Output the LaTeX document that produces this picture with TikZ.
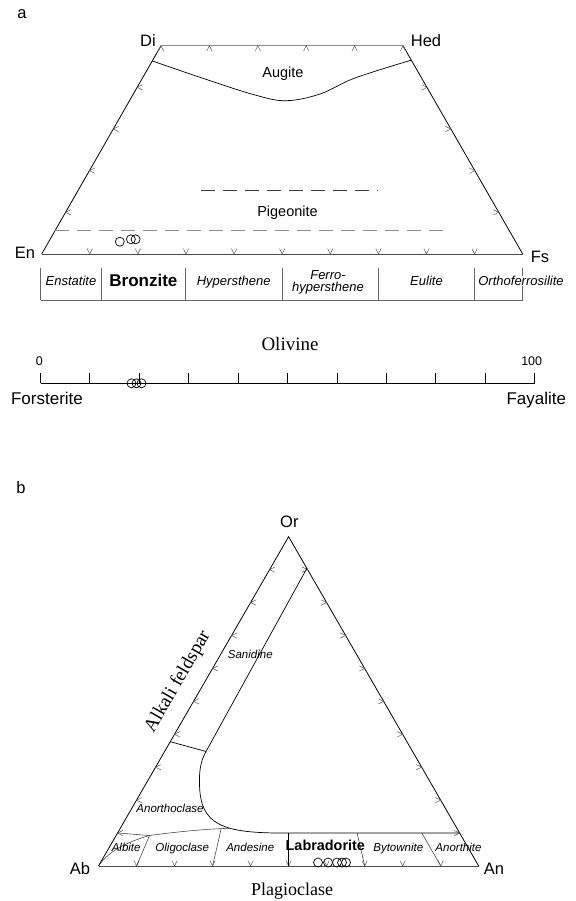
\documentclass[tikz,border=0pt]{standalone}
\usepackage{fontspec}
\setmainfont{Liberation Sans}
\newfontfamily\serifF{Liberation Serif}
\usetikzlibrary{calc}
\newcommand\tk[2]{\draw[tickst] ($(#1)+(#2-26:6)$) -- (#1) -- ($(#1)+(#2+26:6)$);}
\begin{document}
\begin{tikzpicture}[x=1pt,y=-1pt,
  edge/.style={line width=0.8pt,black},
  grayedge/.style={line width=0.8pt,black!45},
  baseedge/.style={line width=0.8pt,black!70},
  tickst/.style={line width=0.5pt,black!65},
  bnd/.style={line width=0.7pt,black},
  thinb/.style={line width=0.55pt,black!75},
  tbl/.style={line width=0.6pt,black!60},
  dashdark/.style={line width=0.8pt,black!75,dash pattern=on 14pt off 8pt},
  dashgray/.style={line width=0.8pt,black!45,dash pattern=on 14pt off 8pt},
  circ/.style={line width=0.7pt,black},
  lab/.style={inner sep=0pt,anchor=base},
  vlab/.style={lab,font=\fontsize{16.5}{18}\selectfont},
  mlab/.style={lab,font=\fontsize{14.5}{16}\selectfont},
  tlab/.style={lab,font=\fontsize{13}{14}\selectfont\itshape},
  slab/.style={lab,font=\fontsize{11.5}{13}\selectfont\itshape},
  serlab/.style={lab,font=\fontsize{19}{21}\selectfont\serifF},
]
\useasboundingbox (0,0) rectangle (575,901);

% ---------------- panel a ----------------
\node[vlab] (la) at (22,18.5) {a};
\coordinate (Di) at (161,45.7);
\coordinate (Hed) at (403,45.7);
\coordinate (En) at (41.7,254);
\coordinate (Fs) at (522.7,254);

\draw[grayedge] (Di) -- (Hed);
\draw[edge] (Di) -- (En);
\draw[edge] (Hed) -- (Fs);
\draw[baseedge] (En) -- (Fs);

\foreach \k in {0,...,5}{\pgfmathsetmacro\f{\k/5}\coordinate (t) at ($(Di)!\f!(Hed)$); \tk{t}{90}}
\foreach \k in {1,...,4}{\pgfmathsetmacro\f{\k/5}\coordinate (t) at ($(Di)!\f!(En)$); \tk{t}{0}}
\foreach \k in {1,...,4}{\pgfmathsetmacro\f{\k/5}\coordinate (t) at ($(Hed)!\f!(Fs)$); \tk{t}{180}}
\foreach \k in {1,...,9}{\pgfmathsetmacro\f{\k/10}\coordinate (t) at ($(En)!\f!(Fs)$); \tk{t}{270}}

\node[vlab] (lDi) at (148,47) {Di};
\node[vlab] (lHed) at (426,47) {Hed};
\node[vlab] (lEn) at (25,258.7) {En};
\node[vlab] (lFs) at (540,262) {Fs};

\draw[bnd] plot[smooth,tension=0.6] coordinates {(152.5,61) (205,79) (255,95) (286,100.7) (320,94) (355,78) (410.8,60.3)};
\node[mlab] (laug) at (283,77.3) {Augite};

\draw[dashdark] (200.9,190) -- (377.8,190);
\node[mlab] (lpig) at (287.5,216.3) {Pigeonite};
\draw[dashgray] (54.5,230.7) -- (450.4,230.7);

\foreach \p in {(119.8,241.7),(130.9,239.3),(135.6,239.3)} \draw[circ] \p circle[radius=4.5pt];

% table
\foreach \x in {40.5,101.4,185.4,282,378.5,474.4,522.7} \draw[tbl] (\x,268) -- (\x,300);
\draw[tbl] (40.5,300) -- (522.7,300);
\node[tlab] (lens) at (71,285.5) {Enstatite};
\node[lab,font=\fontsize{17}{18}\selectfont\bfseries] (lbro) at (143.4,286.5) {Bronzite};
\node[tlab] (lhyp) at (233.7,285.5) {Hypersthene};
\node[tlab] (lfer1) at (328,279) {Ferro-};
\node[tlab] (lfer2) at (328,291.5) {hypersthene};
\node[tlab] (leul) at (426.5,285.5) {Eulite};
\node[tlab,fill=white,inner sep=0.5pt] (lort) at (521,285.5) {Orthoferrosilite};

% olivine scale
\node[serlab] (loliv) at (290,350) {Olivine};
\coordinate (Fo) at (40.5,383.3);
\coordinate (Fa) at (534.5,383.3);
\draw[edge] (Fo) -- (Fa);
\foreach \k in {0,...,10}{\pgfmathsetmacro\f{\k/10}\coordinate (o) at ($(Fo)!\f!(Fa)$); \draw[edge] (o) -- ++(0,-10);}
\node[lab,font=\fontsize{12.5}{14}\selectfont] (l0) at (39.4,365) {0};
\node[lab,font=\fontsize{12.5}{14}\selectfont] (l100) at (531.7,365) {100};
\foreach \p in {(131.5,383.3),(136.5,383.3),(141.5,383.3)} \draw[circ] \p circle[radius=4.5pt];
\node[vlab,font=\fontsize{17}{18}\selectfont] (lfo) at (47,404) {Forsterite};
\node[vlab,font=\fontsize{17}{18}\selectfont] (lfa) at (536.3,404) {Fayalite};

% ---------------- panel b ----------------
\node[vlab] (lb) at (21,493.3) {b};
\coordinate (Or) at (288.6,536.7);
\coordinate (Ab) at (98.5,866);
\coordinate (An) at (478.7,866);
\draw[edge] (Ab) -- (Or) -- (An);
\draw[baseedge] (Ab) -- (An);

\foreach \k in {1,...,9}{\pgfmathsetmacro\f{\k/10}\coordinate (t) at ($(Or)!\f!(Ab)$); \tk{t}{0}}
\foreach \k in {1,...,9}{\pgfmathsetmacro\f{\k/10}\coordinate (t) at ($(Or)!\f!(An)$); \tk{t}{180}}
\foreach \k in {1,...,9}{\pgfmathsetmacro\f{\k/10}\coordinate (t) at ($(Ab)!\f!(An)$); \tk{t}{270}}

\node[vlab] (lOr) at (289.4,527.3) {Or};
\node[vlab] (lAb) at (80,874) {Ab};
\node[vlab] (lAn) at (494,874) {An};

% boundaries
\draw[bnd] (306.9,568.3) -- (206,751.5) .. controls (200.5,761) and (199,772) .. (199.5,785)
   .. controls (200.5,825) and (222,833.5) .. (287.5,833) -- (459.6,833);
\draw[bnd] (170.3,741.7) -- (206,751.5);
\draw[thinb] (117.8,833) -- (149.5,835.5) .. controls (175,832) and (205,829) .. (229,828.3);
\draw[thinb] (Ab) .. controls (108,852) and (125,842.5) .. (149.5,835.5);
\draw[thinb] (149.5,835.5) -- (136.5,866);
\draw[thinb] (221.1,829) -- (212.6,866);
\draw[bnd] (288.6,833) -- (288.6,866);
\draw[thinb] (357.1,833) -- (364.7,866);
\draw[thinb] (421.8,833) -- (440.8,866);

\node[serlab,anchor=center,rotate=60] (lalk) at (178,681.7) {Alkali feldspar};
\node[slab] (lsan) at (250.3,658) {Sanidine};
\node[slab] (lano) at (170,812.7) {Anorthoclase};
\node[slab] (lalb) at (126.2,851) {Albite};
\node[slab] (loli) at (182.3,851) {Oligoclase};
\node[slab] (land) at (250.3,851) {Andesine};
\node[lab,font=\fontsize{14.4}{16}\selectfont\bfseries] (llab) at (325.3,850) {Labradorite};
\node[slab] (lbyt) at (398.3,851) {Bytownite};
\node[slab] (lant) at (458.5,851) {Anorthite};
\foreach \p in {(318,862.5),(328,862.5),(337,862.5),(342,862.5),(346,862.5)} \draw[circ] \p circle[radius=4.5pt];
\node[serlab,font=\fontsize{18}{20}\selectfont\serifF] (lplag) at (292,895) {Plagioclase};
\end{tikzpicture}
\end{document}
